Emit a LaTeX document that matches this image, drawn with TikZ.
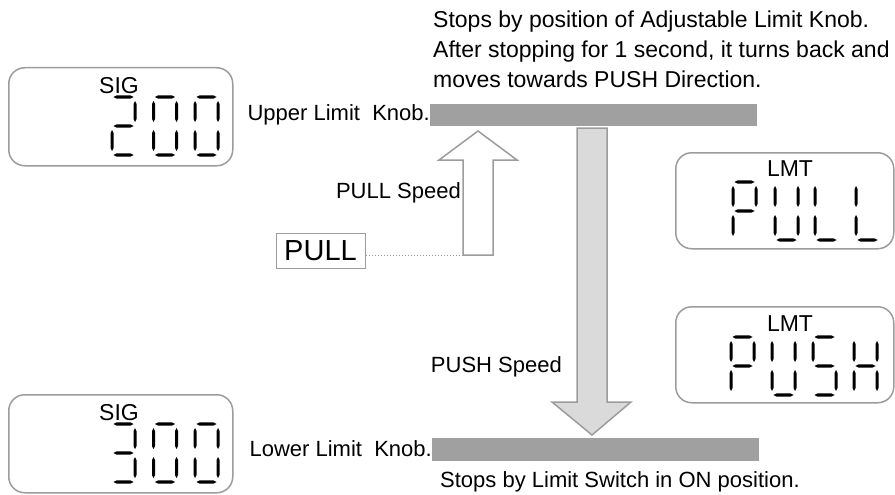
\documentclass[tikz,border=0pt]{standalone}
\usepackage{fontspec}
\setmainfont{Liberation Sans}
\usetikzlibrary{positioning}
\definecolor{bargray}{HTML}{A0A0A0}
\definecolor{framegray}{HTML}{9C9C9C}
\definecolor{pushfill}{HTML}{DADADA}
\tikzset{
	panel/.style={draw=framegray, line width=1.5pt, rounded corners=16pt, inner sep=0pt},
	bar/.style={fill=bargray, draw=none, inner sep=0pt},
	label/.style={font=\fontsize{22}{30}\selectfont, inner sep=0pt},
	note/.style={font=\fontsize{23}{30}\selectfont, inner sep=0pt, anchor=base west},
	disptitle/.style={font=\fontsize{23}{23}\selectfont, inner sep=0pt},
	bigarrow/.style={draw=framegray, line width=1.5pt, line join=miter}
}
% lens shaped segments, horizontal and vertical
\newcommand{\segH}[2]{\fill (#1,#2) -- ++(3,-1.6) -- ++(14,0) -- ++(3,1.6) -- ++(-3,1.6) -- ++(-14,0) -- cycle;}
\newcommand{\segV}[2]{\fill (#1,#2) -- ++(1.5,3) -- ++(0,15) -- ++(-1.5,3) -- ++(-1.5,-3) -- ++(0,-15) -- cycle;}
\newcommand{\dsgA}{\segH{1.5}{0}}
\newcommand{\dsgB}{\segV{23}{4}}
\newcommand{\dsgC}{\segV{23}{33}}
\newcommand{\dsgD}{\segH{1.5}{58}}
\newcommand{\dsgE}{\segV{0}{33}}
\newcommand{\dsgF}{\segV{0}{4}}
\newcommand{\dsgG}{\segH{1.5}{29}}
\newcommand{\segdigit}[3]{\begin{scope}[shift={(#1,#2)}]\foreach \s in {#3}{\csname dsg\s\endcsname}\end{scope}}

\begin{document}
\begin{tikzpicture}[x=1pt, y=-1pt]
	\useasboundingbox (0,0) rectangle (895,495);

	% display panels
	\node[panel, minimum width=224pt, minimum height=98pt, anchor=north west] (sigup) at (8,67) {};
	\node[disptitle, anchor=base] (siguptitle) at (119,93) {SIG};
	\segdigit{112}{97}{A,B,G,E,D}
	\segdigit{153.5}{97}{A,B,C,D,E,F}
	\segdigit{195}{97}{A,B,C,D,E,F}

	\node[panel, minimum width=224pt, minimum height=98pt, anchor=north west] (siglow) at (8,394) {};
	\node[disptitle, anchor=base] (siglowtitle) at (119,420) {SIG};
	\segdigit{112}{424}{A,B,G,C,D}
	\segdigit{153.5}{424}{A,B,C,D,E,F}
	\segdigit{195}{424}{A,B,C,D,E,F}

	\node[panel, minimum width=218pt, minimum height=96pt, anchor=north west] (lmtpull) at (675,152) {};
	\node[disptitle, anchor=base] (lmtpulltitle) at (790,176) {LMT};
	\segdigit{733}{182}{A,B,F,G,E}
	\segdigit{775}{182}{F,B,E,C,D}
	\segdigit{815}{182}{F,E,D}
	\segdigit{856}{182}{F,E,D}

	\node[panel, minimum width=218pt, minimum height=96pt, anchor=north west] (lmtpush) at (675,306) {};
	\node[disptitle, anchor=base] (lmtpushtitle) at (790,331) {LMT};
	\segdigit{731}{337}{A,B,F,G,E}
	\segdigit{772}{337}{F,B,E,C,D}
	\segdigit{813}{337}{A,F,G,C,D}
	\segdigit{854}{337}{F,B,G,E,C}

	% knobs
	\node[bar, minimum width=327pt, minimum height=22pt, anchor=north west] (upbar) at (430,104) {};
	\node[bar, minimum width=327pt, minimum height=23pt, anchor=north west] (lowbar) at (432,438) {};
	\node[label, anchor=base east] (uplabel) at (430,121) {Upper Limit\ \ Knob.};
	\node[label, anchor=base east] (lowlabel) at (432,456) {Lower Limit\ \ Knob.};

	\node[note] (note1) at (433,28) {Stops by position of Adjustable Limit Knob.};
	\node[note] (note2) at (433,58) {After stopping for 1 second, it turns back and};
	\node[note] (note3) at (433,88) {moves towards PUSH Direction.};
	\node[label, anchor=base west] (note4) at (440,487) {Stops by Limit Switch in ON position.};

	% arrows
	\coordinate (pullfoot) at (463,255);
	\draw[bigarrow, fill=white] (pullfoot) -- ++(0,-95) -- ++(-24,0) -- ++(39,-29) -- ++(39,29) -- ++(-24,0) -- ++(0,95) -- cycle;
	\draw[bigarrow, fill=pushfill] (577,128) -- (607,128) -- (607,402) -- (631,402) -- (592,435) -- (552,402) -- (577,402) -- cycle;
	\node[label, anchor=base east] (pullspeed) at (461,198) {PULL Speed};
	\node[label, anchor=base east] (pushspeed) at (562,372) {PUSH Speed};

	\node[draw=framegray, line width=1pt, minimum width=89pt, minimum height=35pt, inner sep=0pt, font=\fontsize{29}{29}\selectfont] (pullbtn) at (320.5,250.5) {PULL};
	\draw[framegray, dotted, line width=1pt] (pullbtn.east |- pullfoot) -- (pullfoot);
\end{tikzpicture}
\end{document}
